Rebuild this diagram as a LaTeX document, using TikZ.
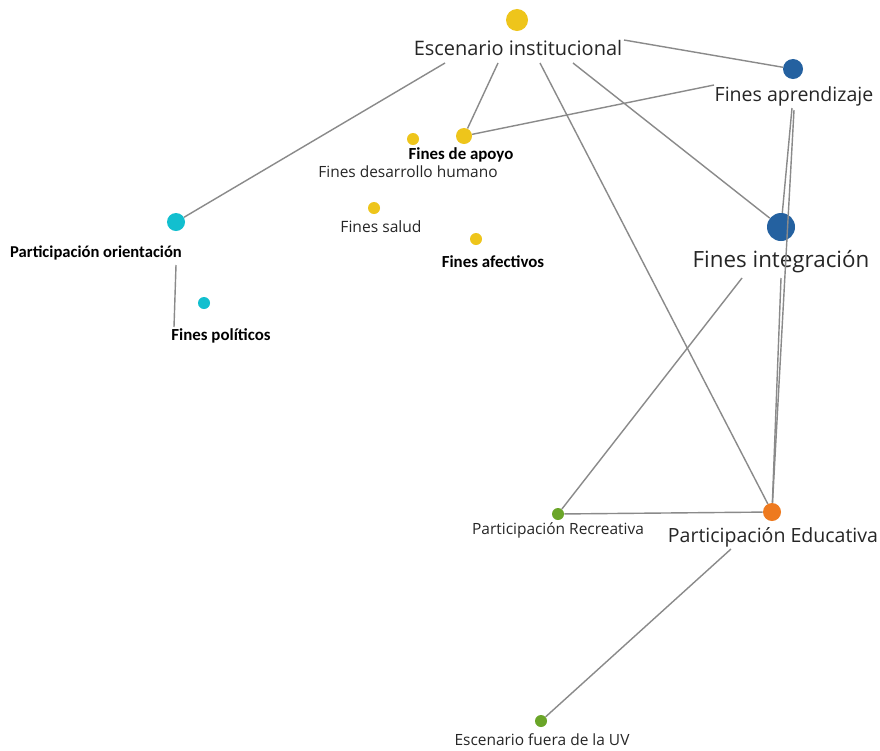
\documentclass[tikz,border=0pt]{standalone}
\usepackage{fontspec}
\setmainfont{Open Sans}
\newfontfamily\labelbold{Carlito}
\usetikzlibrary{calc}
\definecolor{cyellow}{HTML}{EEC51B}
\definecolor{cblue}{HTML}{2461A0}
\definecolor{ccyan}{HTML}{12BFCF}
\definecolor{corange}{HTML}{EE7A1F}
\definecolor{cgreen}{HTML}{6AA528}
\definecolor{cedge}{HTML}{8A8A8A}
\definecolor{ctext}{HTML}{262626}
\newcommand{\fsz}[1]{\fontsize{#1}{#1}\selectfont}
\begin{document}
\begin{tikzpicture}[x=0.025cm,y=-0.025cm,
  dot/.style 2 args={circle,fill=#1,draw=none,inner sep=0pt,minimum size=#2*0.05cm},
  lbl/.style={inner sep=0pt,text=ctext,font=\fsz{#1}},
  blbl/.style={inner sep=0pt,text=black,font={\labelbold\bfseries\fsz{#1}}},
  edge/.style={draw=cedge,line width=1pt}]
\useasboundingbox[fill=white] (0,0) rectangle (880,750);

% concept dots
\node[dot={cyellow}{11}] (ei)  at (517,20) {};
\node[dot={cblue}{10}]   (fa)  at (793,69) {};
\node[dot={cblue}{14}]   (fi)  at (781,227) {};
\node[dot={corange}{9}]  (pe)  at (772,512) {};
\node[dot={cgreen}{6}]   (pr)  at (558,514) {};
\node[dot={cgreen}{6}]   (ef)  at (541,721) {};
\node[dot={ccyan}{9}]    (po)  at (176,222) {};
\node[dot={ccyan}{6}]    (fp)  at (204,303) {};
\node[dot={cyellow}{8}]  (fap) at (464,136) {};
\node[dot={cyellow}{6}]  (fdh) at (413,139) {};
\node[dot={cyellow}{6}]  (fs)  at (374,208) {};
\node[dot={cyellow}{6}]  (faf) at (476,239) {};

% labels
\node[lbl=14.2] (eiL)  at (518,48)  {Escenario institucional};
\node[lbl=13.9] (faL)  at (794,96)  {Fines aprendizaje};
\node[lbl=15.9] (fiL)  at (781,262) {Fines integración};
\node[lbl=13.9] (peL)  at (773,537) {Participación Educativa};
\node[lbl=11.0] (prL)  at (558,530) {Participación Recreativa};
\node[lbl=11.0] (efL)  at (542,740) {Escenario fuera de la UV};
\node[lbl=11.0] (fdhL) at (408,172) {Fines desarrollo humano};
\node[lbl=11.1] (fsL)  at (381,227) {Fines salud};
\node[blbl=11.8] (poL)  at (96,253)  {Participación orientación};
\node[blbl=12] (fpL)  at (221,336) {Fines políticos};
\node[blbl=12] (fapL) at (461,155) {Fines de apoyo};
\node[blbl=12] (fafL) at (493,262) {Fines afectivos};

% connectors
\draw[edge] ($(eiL.center)+(-73,15)$) -- (po);
\draw[edge] ($(eiL.center)+(-20,15)$) -- (fap);
\draw[edge] ($(eiL.center)+(22,15)$)  -- (pe);
\draw[edge] ($(eiL.center)+(55,15)$)  -- (fi);
\draw[edge] ($(eiL.center)+(106,-8)$) -- (fa);
\draw[edge] (fap) -- ($(faL.center)+(-80,-11)$);
\draw[edge] ($(faL.center)+(-2,12)$) -- (fi);
\draw[edge] ($(faL.center)+(0,14)$)  -- (pe);
\draw[edge] ($(fiL.center)+(0,16)$)  -- (pe);
\draw[edge] ($(fiL.center)+(-39,16)$) -- (pr);
\draw[edge] (pr) -- (pe);
\draw[edge] ($(peL.center)+(-42,12)$) -- (ef);
\draw[edge] ($(poL.center)+(80,12)$) -- ($(fpL.center)+(-47,-9)$);
\end{tikzpicture}
\end{document}
